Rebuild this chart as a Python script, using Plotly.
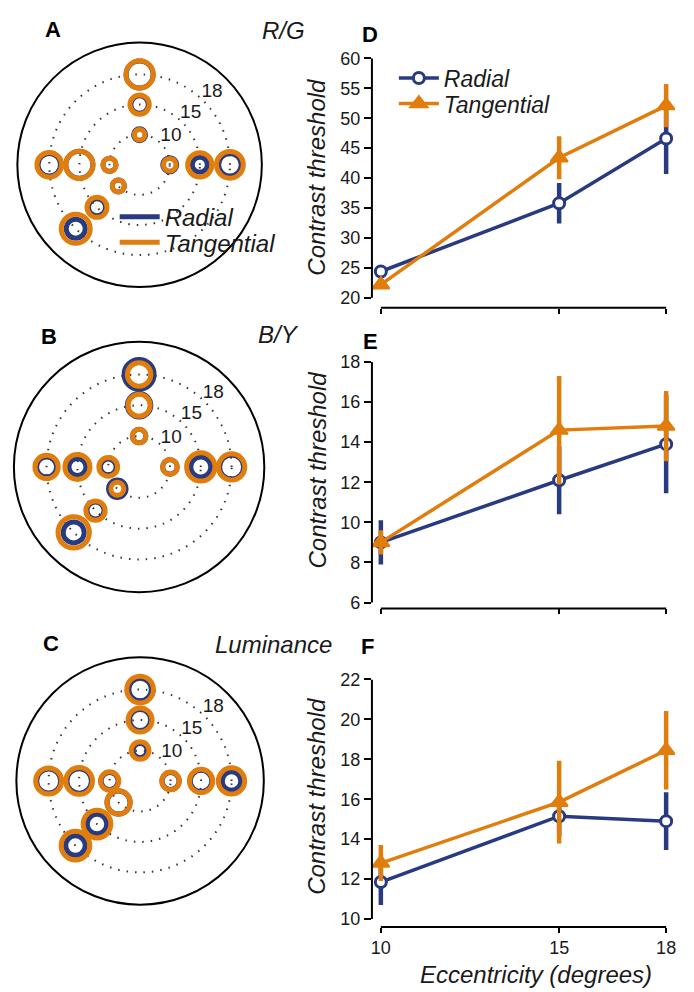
import plotly.graph_objects as go

W, H = 694, 992
NAVY = "#283a80"
ORANGE = "#e07d0c"
INK = "#1a1a1a"
FONT = "Liberation Sans, Arial, Helvetica, sans-serif"

# ---------------- data: line panels (D, E, F) ----------------
ecc = [10, 15, 18]
ecc_labels = ["10", "15", "18"]

rg_radial = [24.4, 35.8, 46.6]
rg_radial_err = [1.05, 3.4, 5.9]
rg_tang = [22.2, 43.4, 52.1]
rg_tang_err = [0.5, 3.6, 3.6]

by_radial = [9.0, 12.1, 13.9]
by_radial_err = [1.1, 1.7, 2.45]
by_tang = [9.0, 14.6, 14.8]
by_tang_err = [0.6, 2.7, 1.75]

lum_radial = [11.85, 15.15, 14.9]
lum_radial_err = [1.15, 1.0, 1.45]
lum_tang = [12.8, 15.85, 18.45]
lum_tang_err = [0.9, 2.07, 1.97]

# ---------------- data: polar panels (A, B, C) ----------------
# stimulus locations: polar angle (deg) and eccentricity ring index (1=10, 2=15, 3=18 deg)
loc_theta = [90, 90, 90, 180, 180, 180, 0, 0, 0, 225, 225, 225]
loc_ring = [1, 2, 3, 1, 2, 3, 1, 2, 3, 1, 2, 3]
ring_vals = [1, 2, 3]
ring_labels = ["10", "15", "18"]

# circle diameter (threshold magnitude) per location
rg_pol_tang = [15.5, 24.3, 32.3, 18.3, 32.3, 29.7, 17.5, 29.3, 31.7, 17.0, 25.0, 34.0]
rg_pol_rad = [17.0, 22.5, 32.0, 18.0, 32.0, 27.5, 19.0, 20.0, 27.5, 17.0, 22.0, 24.0]
by_pol_tang = [18.5, 27.0, 28.5, 23.7, 30.0, 28.3, 19.7, 33.3, 31.3, 18.0, 24.3, 36.3]
by_pol_rad = [18.5, 28.5, 35.0, 20.7, 22.0, 25.0, 19.5, 25.0, 29.0, 22.5, 22.0, 26.0]
lum_pol_tang = [22.7, 29.0, 31.7, 23.3, 31.7, 31.0, 22.7, 28.3, 31.3, 28.3, 32.7, 33.7]
lum_pol_rad = [19.0, 26.0, 27.5, 22.0, 29.5, 29.0, 22.0, 26.5, 23.5, 28.0, 24.5, 24.5]

RING_W = 5


def px_x(p):
    return p / W


def px_y(p):
    return 1 - p / H


fig = go.Figure()

# ---------------- polar panels ----------------
polar_specs = [
    ("polar", rg_pol_rad, rg_pol_tang),
    ("polar2", by_pol_rad, by_pol_tang),
    ("polar3", lum_pol_rad, lum_pol_tang),
]
for sub, rad, tang in polar_specs:
    fig.add_trace(go.Scatterpolar(
        r=loc_ring, theta=loc_theta, subplot=sub, mode="markers", showlegend=False,
        marker=dict(symbol="circle-open", size=[d - RING_W for d in rad], color=NAVY,
                    opacity=1, line=dict(width=RING_W, color=NAVY)),
        hoverinfo="skip"))
    fig.add_trace(go.Scatterpolar(
        r=loc_ring, theta=loc_theta, subplot=sub, mode="markers", showlegend=False,
        marker=dict(symbol="circle-open", size=[d - RING_W for d in tang], color=ORANGE,
                    opacity=1, line=dict(width=RING_W, color=ORANGE)),
        hoverinfo="skip"))
    # ring labels, just outside each ring along the 45 deg direction
    fig.add_trace(go.Scatterpolar(
        r=[v + 0.4 for v in ring_vals], theta=[42, 45, 45], subplot=sub, mode="text",
        text=ring_labels, showlegend=False, hoverinfo="skip",
        textfont=dict(family=FONT, size=19, color=INK)))

# polar legend (panel A)
fig.add_trace(go.Scatterpolar(r=[None], theta=[None], subplot="polar", mode="lines",
                              name="Radial", line=dict(color=NAVY, width=5), legend="legend3"))
fig.add_trace(go.Scatterpolar(r=[None], theta=[None], subplot="polar", mode="lines",
                              name="Tangential", line=dict(color=ORANGE, width=5), legend="legend4"))

polar_domains = {
    "polar": ((139, 157), 124),
    "polar2": ((138.5, 463.5), 127),
    "polar3": ((139.5, 782), 125.5),
}
for key, ((cx, cy), rr) in polar_domains.items():
    fig.update_layout(**{key: dict(
        domain=dict(x=[px_x(cx - rr), px_x(cx + rr)], y=[px_y(cy + rr), px_y(cy - rr)]),
        bgcolor="white",
        radialaxis=dict(range=[0, 4.06], tickvals=ring_vals, showticklabels=False,
                        showline=False, ticks="", angle=45,
                        showgrid=True, gridcolor="#333", gridwidth=1.5, griddash="1.5px,7px"),
        angularaxis=dict(showline=True, linecolor="black", linewidth=2, showgrid=False,
                         ticks="", showticklabels=False),
    )})

# ---------------- line panels ----------------
line_specs = [
    ("x", "y", rg_radial, rg_radial_err, rg_tang, rg_tang_err, True),
    ("x2", "y2", by_radial, by_radial_err, by_tang, by_tang_err, False),
    ("x3", "y3", lum_radial, lum_radial_err, lum_tang, lum_tang_err, False),
]
for xa, ya, rad, rerr, tan, terr, leg in line_specs:
    fig.add_trace(go.Scatter(
        x=ecc, y=rad, xaxis=xa, yaxis=ya, mode="lines+markers", name="Radial",
        showlegend=leg, legend="legend",
        line=dict(color=NAVY, width=3.5),
        marker=dict(symbol="circle", size=11, color="white", line=dict(color=NAVY, width=3)),
        error_y=dict(type="data", array=rerr, color=NAVY, thickness=4.5, width=0)))
    fig.add_trace(go.Scatter(
        x=ecc, y=tan, xaxis=xa, yaxis=ya, mode="lines+markers", name="Tangential",
        showlegend=leg, legend="legend2",
        line=dict(color=ORANGE, width=3.5),
        marker=dict(symbol="triangle-up", size=15, color=ORANGE, line=dict(color=ORANGE, width=2)),
        error_y=dict(type="data", array=terr, color=ORANGE, thickness=4.5, width=0)))

x_dom = [px_x(372), px_x(676)]
panels = [
    ("xaxis", "yaxis", "x", "y", (49, 302), [18.35, 60], [20, 25, 30, 35, 40, 45, 50, 55, 60], False),
    ("xaxis2", "yaxis2", "x2", "y2", (357, 607), [5.705, 18], [6, 8, 10, 12, 14, 16, 18], False),
    ("xaxis3", "yaxis3", "x3", "y3", (679, 930), [9.605, 22], [10, 12, 14, 16, 18, 20, 22], True),
]
shapes = []
for xk, yk, xr, yr, (top, bot), yrange, yticks, showx in panels:
    fig.update_layout(**{
        xk: dict(domain=x_dom, anchor=yr, range=[9.75, 18.25], tickvals=ecc, ticktext=ecc_labels,
                 showticklabels=showx, ticks="outside", ticklen=5, tickwidth=2, tickcolor="black",
                 showline=False, showgrid=False, zeroline=False,
                 tickfont=dict(family=FONT, size=18, color=INK)),
        yk: dict(domain=[px_y(bot), px_y(top)], anchor=xr, range=yrange, tickvals=yticks,
                 ticks="outside", ticklen=7, tickwidth=2, tickcolor="black",
                 showline=False, showgrid=False, zeroline=False,
                 tickfont=dict(family=FONT, size=18, color=INK)),
    })
    # bounded spines
    shapes.append(dict(type="line", xref=f"{xr} domain", yref=yr, x0=0, x1=0,
                       y0=yticks[0], y1=yticks[-1], line=dict(color="black", width=2)))
    shapes.append(dict(type="line", xref=xr, yref=f"{yr} domain", x0=ecc[0], x1=ecc[-1],
                       y0=0, y1=0, line=dict(color="black", width=2)))

# ---------------- annotations ----------------
ann = []


def text(s, x, y, size=24, bold=False, italic=False, angle=0, xanchor="center"):
    ann.append(dict(text=s, x=px_x(x), y=px_y(y), xref="paper", yref="paper", showarrow=False,
                    xanchor=xanchor, yanchor="middle", textangle=angle,
                    font=dict(family=FONT, size=size, color="black" if bold else INK,
                              weight="bold" if bold else "normal",
                              style="italic" if italic else "normal")))


for lab, x, y in [("A", 52, 20), ("B", 48, 331), ("C", 50, 643),
                  ("D", 370, 25), ("E", 371, 336), ("F", 368, 646)]:
    text(lab, x, y, size=22, bold=True)

text("R/G", 283, 21, italic=True)
text("B/Y", 278, 329, italic=True)
text("Luminance", 273, 644, italic=True)
for cy in (170, 467, 798):
    text("Contrast threshold", 317, cy, italic=True, angle=-90)
text("Eccentricity (degrees)", 537, 978, italic=True)

legbase = dict(bgcolor="rgba(0,0,0,0)", borderwidth=0, xanchor="left", yanchor="middle",
               itemwidth=40)
legfont_d = dict(family=FONT, size=23, color=INK, style="italic")
legfont_a = dict(family=FONT, size=24, color=INK, style="italic")

fig.update_layout(
    width=W, height=H,
    margin=dict(l=0, r=0, t=0, b=0, pad=0),
    paper_bgcolor="white", plot_bgcolor="white",
    showlegend=True,
    legend=dict(x=px_x(394), y=px_y(69), font=legfont_d, **legbase),
    legend2=dict(x=px_x(394), y=px_y(95), font=legfont_d, **legbase),
    legend3=dict(x=px_x(114), y=px_y(210), font=legfont_a, **legbase),
    legend4=dict(x=px_x(114), y=px_y(236), font=legfont_a, **legbase),
    shapes=shapes,
    annotations=ann,
    font=dict(family=FONT),
)

fig.write_html("out.html")
